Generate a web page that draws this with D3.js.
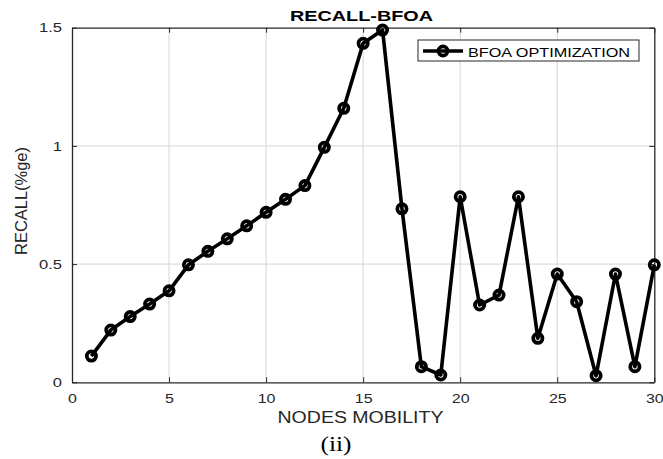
<!DOCTYPE html>
<html><head><meta charset="utf-8">
<script src="https://cdn.jsdelivr.net/npm/d3@7"></script>
<style>body{margin:0;background:#fff}svg{display:block}</style>
</head><body>
<script>
const nodes = d3.range(1, 31);
const recall = [0.111,0.221,0.278,0.331,0.387,0.497,0.554,0.607,0.662,0.719,
  0.774,0.832,0.994,1.159,1.434,1.490,0.734,0.066,0.031,0.785,
  0.327,0.369,0.785,0.186,0.458,0.341,0.028,0.458,0.066,0.497];
const xTicks = [0,5,10,15,20,25,30];
const yTicks = [0,0.5,1,1.5];
const seriesName = "BFOA OPTIMIZATION";
const titleText = "RECALL-BFOA";
const xLabel = "NODES MOBILITY";
const yLabel = "RECALL(%ge)";
const caption = "(ii)";

const W = 663, H = 459;
const L = 72, R = 654.3, T = 27.7, B = 382.3;
const svg = d3.select("body").append("svg").attr("width", W).attr("height", H);
const x = d3.scaleLinear().domain([0,30]).range([L,R]);
const y = d3.scaleLinear().domain([0,1.5]).range([B,T]);

function stretch(sel, sx){ sel.each(function(){ const w=this.getComputedTextLength(); d3.select(this).attr("textLength", w*sx).attr("lengthAdjust","spacingAndGlyphs"); }); }

// grid
const g = svg.append("g");
g.selectAll(".gx").data(xTicks.filter(d=>d>0&&d<30)).enter().append("line")
  .attr("x1",d=>x(d)).attr("x2",d=>x(d)).attr("y1",T).attr("y2",B)
  .attr("stroke","#dcdcdc").attr("stroke-width",1.2);
g.selectAll(".gy").data(yTicks.filter(d=>d>0&&d<1.5)).enter().append("line")
  .attr("y1",d=>y(d)).attr("y2",d=>y(d)).attr("x1",L).attr("x2",R)
  .attr("stroke","#dcdcdc").attr("stroke-width",1.2);

// axes
const ax = svg.append("g").attr("transform",`translate(0,${B})`)
  .call(d3.axisBottom(x).tickValues(xTicks).tickSize(-5).tickPadding(12).tickSizeOuter(0));
const axT = svg.append("g").attr("transform",`translate(0,${T})`)
  .call(d3.axisTop(x).tickValues(xTicks).tickSize(-5).tickFormat("").tickSizeOuter(0));
const ay = svg.append("g").attr("transform",`translate(${L},0)`)
  .call(d3.axisLeft(y).tickValues(yTicks).tickSize(-5).tickPadding(10).tickFormat(d3.format("~g")).tickSizeOuter(0));
const ayR = svg.append("g").attr("transform",`translate(${R},0)`)
  .call(d3.axisRight(y).tickValues(yTicks).tickSize(-5).tickFormat("").tickSizeOuter(0));
[ax,axT,ay,ayR].forEach(a=>{a.select(".domain").attr("stroke","#262626").attr("stroke-width",1.3);
  a.selectAll(".tick line").attr("stroke","#262626");});
[ax,ay].forEach(a=>{a.selectAll("text").attr("font-family","Liberation Sans, Arial, sans-serif")
  .attr("font-size",12).attr("fill","#262626");});
ay.selectAll(".tick text").attr("dy","0.35em");
stretch(ax.selectAll("text"),1.33);
stretch(ay.selectAll("text"),1.38);

// line
svg.append("path").datum(nodes.map((n,i)=>[n,recall[i]]))
  .attr("fill","none").attr("stroke","#000").attr("stroke-width",3.6).attr("stroke-linejoin","round")
  .attr("d",d3.line().x(d=>x(d[0])).y(d=>y(d[1])));
svg.selectAll(".m").data(nodes.map((n,i)=>[n,recall[i]])).enter().append("circle")
  .attr("cx",d=>x(d[0])).attr("cy",d=>y(d[1])).attr("r",4.6)
  .attr("fill","none").attr("stroke","#000").attr("stroke-width",3.8);

// legend
const lg = svg.append("g");
lg.append("rect").attr("x",418).attr("y",40).attr("width",221).attr("height",21)
  .attr("fill","#fff").attr("stroke","#262626").attr("stroke-width",1);
lg.append("line").attr("x1",423).attr("x2",463).attr("y1",51).attr("y2",51).attr("stroke","#000").attr("stroke-width",3.6);
lg.append("circle").attr("cx",443).attr("cy",51).attr("r",4.6).attr("fill","none").attr("stroke","#000").attr("stroke-width",3.8);
lg.append("text").attr("x",468).attr("y",56.5).text(seriesName)
  .attr("font-family","Liberation Sans, Arial, sans-serif").attr("font-size",13.5).attr("fill","#000")
  .attr("textLength",162).attr("lengthAdjust","spacingAndGlyphs");

// title & labels
svg.append("text").attr("x",361.5).attr("y",20.5).attr("text-anchor","middle").text(titleText)
  .attr("font-family","Liberation Sans, Arial, sans-serif").attr("font-weight","bold").attr("font-size",15)
  .attr("textLength",143).attr("lengthAdjust","spacingAndGlyphs");
svg.append("text").attr("x",360.5).attr("y",423.3).attr("text-anchor","middle").text(xLabel)
  .attr("font-family","Liberation Sans, Arial, sans-serif").attr("font-size",16).attr("fill","#262626")
  .attr("textLength",166).attr("lengthAdjust","spacingAndGlyphs");
svg.append("text").attr("transform","translate(27,201) rotate(-90)").attr("text-anchor","middle").text(yLabel)
  .attr("font-family","Liberation Sans, Arial, sans-serif").attr("font-size",16).attr("fill","#262626")
  .attr("textLength",108).attr("lengthAdjust","spacingAndGlyphs");
svg.append("text").attr("x",336).attr("y",451).attr("text-anchor","middle").text(caption)
  .attr("font-family","Liberation Serif, Times New Roman, serif").attr("font-size",22).attr("fill","#000")
  .attr("textLength",31).attr("lengthAdjust","spacingAndGlyphs");
</script>
</body></html>
